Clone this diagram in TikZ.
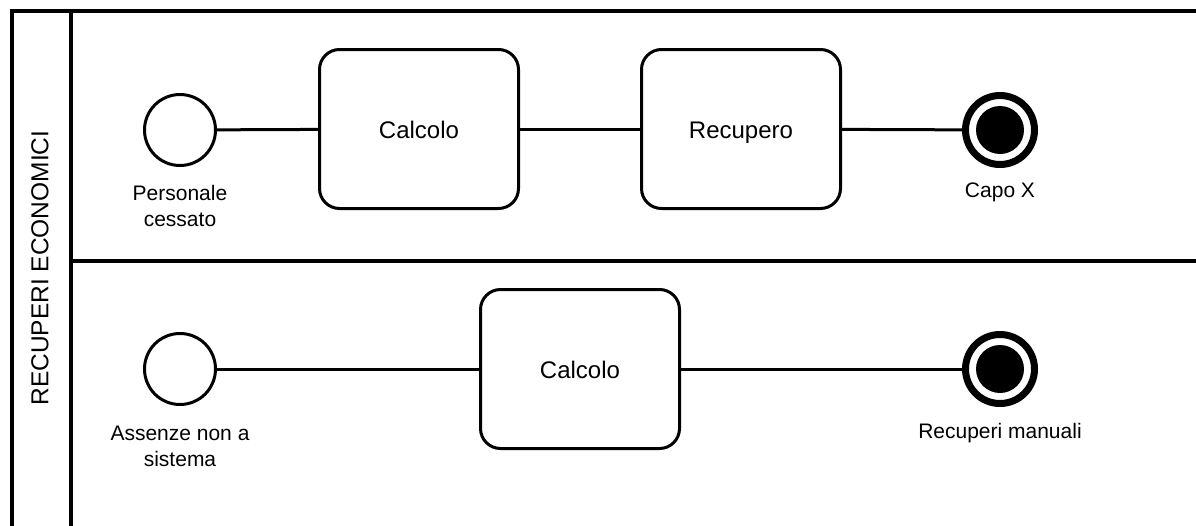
\documentclass[tikz,border=0pt]{standalone}
\usepackage{fontspec}
\setmainfont{Liberation Sans}
\begin{document}
\begin{tikzpicture}[x=1pt,y=-1pt,
  pool/.style={line width=4pt},
  startev/.style={circle,draw,line width=3pt,minimum size=71pt,inner sep=0pt},
  endev/.style={circle,draw,line width=7pt,minimum size=69pt,inner sep=0pt},
  task/.style={draw,line width=3pt,rounded corners=20pt,minimum width=199pt,minimum height=159pt,
    text height=21pt,text depth=3pt,font=\fontsize{24pt}{28pt}\selectfont},
  lbl/.style={font=\fontsize{21pt}{26pt}\selectfont,align=center,inner sep=0pt},
  flow/.style={line width=3pt}]
\useasboundingbox (0,0) rectangle (1196,525);
\begin{scope}
\clip (0,0) rectangle (1196,525);
\fill[white] (0,0) rectangle (1196,525);
\draw[pool] (12,540) -- (12,11) -- (1210,11);
\draw[pool] (71,11) -- (71,540);
\draw[pool] (71,261) -- (1210,261);
\end{scope}
\node[rotate=90,font=\fontsize{24.5pt}{28pt}\selectfont] (lane) at (40,268) {RECUPERI ECONOMICI};
% lane 1
\node[startev] (s1) at (180,130) {};
\node[lbl] (s1l) at (180,206) {Personale\\cessato};
\node[task] (t1) at (419,129) {Calcolo};
\node[task] (t2) at (741,129) {Recupero};
\node[endev] (e1) at (1000,130) {};
\fill (e1.center) circle (24pt);
\node[lbl] (e1l) at (1000,192) {Capo X};
\draw[flow] (s1) -- (t1);
\draw[flow] (t1) -- (t2);
\draw[flow] (t2) -- (e1);
% lane 2
\node[startev] (s2) at (180,369) {};
\node[lbl] (s2l) at (180,446) {Assenze non a\\sistema};
\node[task] (t3) at (580,369) {Calcolo};
\node[endev] (e2) at (1000,369) {};
\fill (e2.center) circle (24pt);
\node[lbl] (e2l) at (1000,433) {Recuperi manuali};
\draw[flow] (s2) -- (t3);
\draw[flow] (t3) -- (e2);
\end{tikzpicture}
\end{document}
